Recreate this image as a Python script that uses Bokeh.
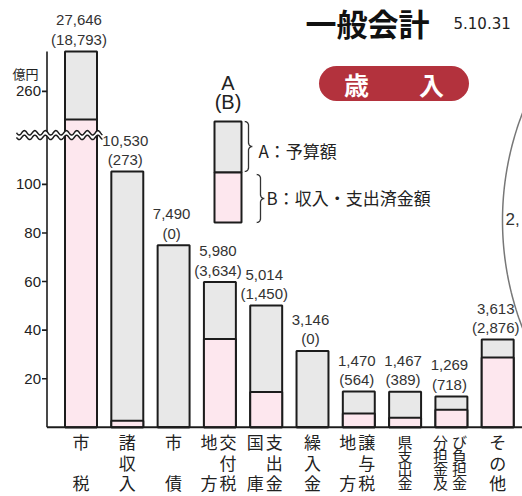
import numpy as np
from bokeh.plotting import figure
from bokeh.models import Range1d, ColumnDataSource
from bokeh.core.properties import value
from bokeh.embed import file_html
from bokeh.resources import INLINE

# ---------------- data ----------------
categories = ["市税", "諸収入", "市債", "地方交付税", "国庫支出金", "繰入金",
              "地方譲与税", "県支出金", "分担金及び負担金", "その他"]
# label layout: columns of stacked characters ("　" = blank row)
label_columns = [["市　税"], ["諸収入"], ["市　債"], ["地　方", "交付税"], ["国　庫", "支出金"],
                 ["繰入金"], ["地　方", "譲与税"], ["県支出金"], ["分担金及", "び負担金"], ["その他"]]
budget = [27646, 10530, 7490, 5980, 5014, 3146, 1470, 1467, 1269, 3613]   # A: 予算額 (百万円)
actual = [18793, 273, 0, 3634, 1450, 0, 564, 389, 718, 2876]             # B: 収入・支出済金額
y_ticks = [20, 40, 60, 80, 100, 260]                                      # 億円

# ---------------- styling / geometry ----------------
GRAY = "#e8e8e8"
PINK = "#fde7ee"
INK = "#1c1c1c"
RED = "#b3323d"
NUM_FONT = value("Liberation Sans")
JP_FONT = value("Noto Sans CJK JP")

W, H = 522, 496
CX0, DX = 80.5, 46.3      # px of first category centre, px per category
BASE, DY = 426.8, 2.429   # px of baseline, px per 億円


def disp(v):
    """broken axis: compress 115..260 億円"""
    return np.interp(v, [0, 115, 260, 400], [0, 115, 138.3, 278.3])


def px(xp):
    return (xp - CX0) / DX


def py(yp):
    return (BASE - yp) / DY


p = figure(width=W, height=H, x_range=Range1d(px(0), px(W)), y_range=Range1d(py(H), py(0)),
           min_border=0, toolbar_location=None, output_backend="svg",
           x_axis_type=None, y_axis_type=None)
p.outline_line_color = None
p.background_fill_color = "white"

idx = np.arange(len(categories))
a_oku = np.array(budget) / 100.0
b_oku = np.array(actual) / 100.0
src = ColumnDataSource(dict(
    x=idx, a=disp(a_oku), b=disp(b_oku),
    la=[f"{v:,}" for v in budget], lb=[f"({v:,})" for v in actual]))

# bars
p.vbar(x="x", top="a", bottom=0, width=0.69, source=src, fill_color=GRAY, line_color=INK, line_width=2)
p.vbar(x="x", top="b", bottom=0, width=0.69, source=src, fill_color=PINK, line_color=INK, line_width=2)

# value labels
p.text(x="x", y="a", text="la", source=src, x_offset=-2, y_offset=-31, text_align="center",
       text_baseline="middle", text_font=NUM_FONT, text_font_size="15px", text_color="#333333")
p.text(x="x", y="a", text="lb", source=src, x_offset=-2, y_offset=-12, text_align="center",
       text_baseline="middle", text_font=NUM_FONT, text_font_size="15px", text_color="#333333")

# axes (drawn with the plot's own scales)
ax_x = px(46.5)
p.segment(x0=[ax_x], y0=[0], x1=[px(W)], y1=[0], line_color=INK, line_width=2)
p.segment(x0=[ax_x], y0=[0], x1=[ax_x], y1=[disp(a_oku.max())], line_color=INK, line_width=1.6)
ty = disp(np.array(y_ticks, dtype=float))
p.segment(x0=[ax_x - 5 / DX] * len(ty), y0=ty, x1=[ax_x] * len(ty), y1=ty, line_color=INK, line_width=1.6)
p.text(x=[ax_x] * len(ty), y=ty, text=[str(t) for t in y_ticks], x_offset=-6, text_align="right",
       text_baseline="middle", text_font=NUM_FONT, text_font_size="15px", text_color="#222222")
p.text(x=[px(25)], y=[py(73)], text=["億円"], text_align="center", text_baseline="middle",
       text_font=JP_FONT, text_font_size="13px", text_color="#222222")

# break marks
wx = np.linspace(16, 102, 200)
w1 = 132.3 + 2.2 * np.sin(2 * np.pi * (wx - 16) / 10.5)
w2 = w1 + 4.6
p.varea(x=px(wx), y1=py(w1), y2=py(w2), fill_color="white")
p.line(px(wx), py(w1), line_color=INK, line_width=1.5)
p.line(px(wx), py(w2), line_color=INK, line_width=1.5)

# category labels
for i, cols in enumerate(label_columns):
    n = len(cols)
    offs = [0] if n == 1 else [-9.5, 9.5]
    for c, col in enumerate(cols):
        k = len(col)
        ys = np.linspace(441, 482, k)
        fs = "17px" if k <= 3 else "15px"
        xc = CX0 + DX * i + offs[c] - (0 if n == 1 else 1.5)
        chars = [ch for ch in col]
        p.text(x=[px(xc)] * k, y=py(ys), text=chars, text_align="center", text_baseline="middle",
               text_font=JP_FONT, text_font_size=fs, text_color="#222222")

# title
p.text(x=[px(367)], y=[py(22)], text=["一般会計"], text_align="center", text_baseline="middle",
       text_font=JP_FONT, text_font_size="31px", text_font_style="bold", text_color="#111111")
p.text(x=[px(453)], y=[py(22)], text=["5.10.31"], text_align="left", text_baseline="middle",
       text_font=value("DejaVu Sans"), text_font_size="15px", text_color="#222222")

# 歳入 pill
p.rect(x=[px(393.5)], y=[py(83)], width=115, height=35, width_units="screen", height_units="screen",
       fill_color=RED, line_color=None)
p.scatter(x=[px(393.5 - 57.5), px(393.5 + 57.5)], y=[py(83)] * 2, size=35, fill_color=RED, line_color=None)
p.text(x=[px(393.5)], y=[py(83)], text=["歳　　入"], text_align="center", text_baseline="middle",
       text_font=JP_FONT, text_font_size="25px", text_font_style="bold", text_color="white")

# legend sample
lx0, lx1 = px(214), px(241)
p.quad(left=[lx0], right=[lx1], top=[py(121)], bottom=[py(172)], fill_color=GRAY, line_color=INK, line_width=2)
p.quad(left=[lx0], right=[lx1], top=[py(172)], bottom=[py(222)], fill_color=PINK, line_color=INK, line_width=2)
p.text(x=[px(227.5)] * 2, y=[py(82), py(101)], text=["A", "(B)"], text_align="center", text_baseline="middle",
       text_font=value("Liberation Sans"), text_font_size="20px", text_color="#222222")


def brace(xb, yt, yb, r):
    ym = (yt + yb) / 2
    pts = []

    def arc(cx, cy, a0, a1):
        t = np.radians(np.linspace(a0, a1, 12))
        return list(zip(cx + r * np.cos(t), cy + r * np.sin(t)))
    pts += arc(xb - r, yt + r, -90, 0)
    pts += arc(xb + r, ym - r, 180, 90)
    pts += arc(xb + r, ym + r, 270, 180)
    pts += arc(xb - r, yb - r, 0, 90)
    xs, ys = zip(*pts)
    return px(np.array(xs)), py(np.array(ys))


for xb, yt, yb in [(248, 121, 171), (260, 174, 222)]:
    bx, by = brace(xb, yt, yb, 3.8)
    p.line(bx, by, line_color="#333333", line_width=1.3)

p.text(x=[px(258)], y=[py(150)], text=["A：予算額"], text_align="left", text_baseline="middle",
       text_font=JP_FONT, text_font_size="17px", text_color="#222222")
p.text(x=[px(266)], y=[py(197)], text=["B：収入・支出済金額"], text_align="left", text_baseline="middle",
       text_font=JP_FONT, text_font_size="17px", text_color="#222222")

# pie-chart edge at right
th = np.radians(np.linspace(150, 210, 120))
p.line(px(801 + 299 * np.cos(th)), py(220 + 299 * np.sin(th)), line_color="#777777", line_width=1.5)
p.text(x=[px(505)], y=[py(218)], text=["2,"], text_align="left", text_baseline="middle",
       text_font=NUM_FONT, text_font_size="17px", text_color="#333333")

open("out.html", "w").write(file_html(p, INLINE))
